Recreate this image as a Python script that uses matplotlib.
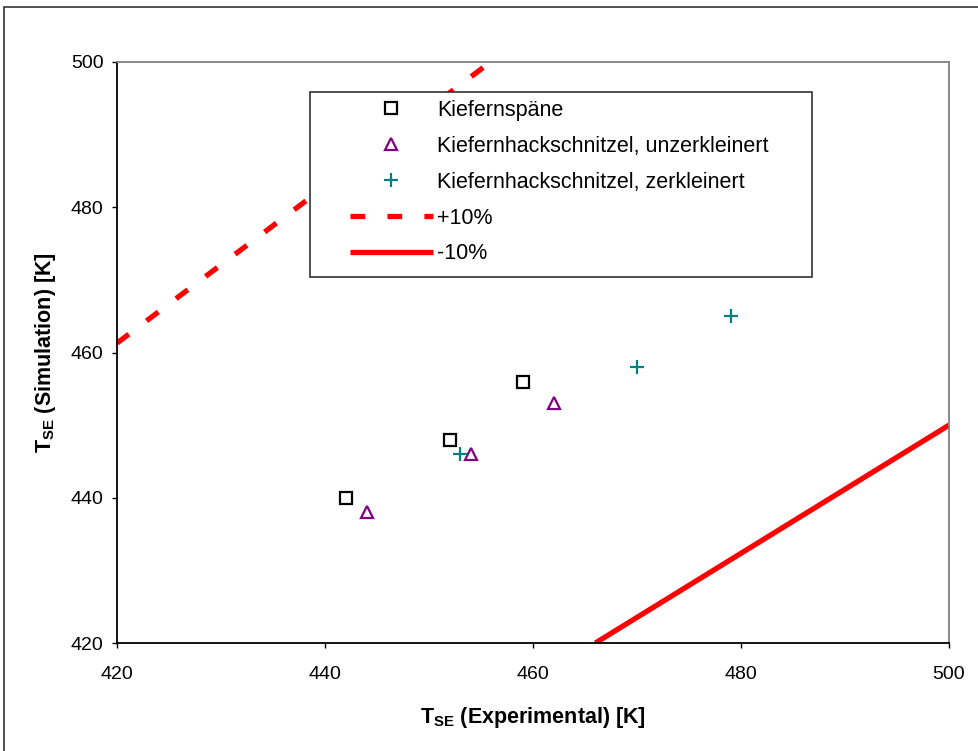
import matplotlib
matplotlib.use("Agg")
import matplotlib.pyplot as plt
from matplotlib.patches import Rectangle

plt.rcParams['font.family'] = ['Liberation Sans', 'DejaVu Sans']
plt.rcParams['mathtext.fontset'] = 'custom'
plt.rcParams['mathtext.rm'] = 'Liberation Sans'
plt.rcParams['mathtext.bf'] = 'Liberation Sans:bold'

# data
spaene_x = [442, 452, 459]
spaene_y = [440, 448, 456]
unzerkl_x = [444, 454, 462]
unzerkl_y = [438, 446, 453]
zerkl_x = [453, 470, 479]
zerkl_y = [446, 458, 465]
plus10_x = [420, 500]
plus10_y = [461.3, 547.5]
minus10_x = [466, 500]
minus10_y = [420, 450]
ticks = [420, 440, 460, 480, 500]

W, H = 979, 751
fig = plt.figure(figsize=(W / 100, H / 100), dpi=100)
ax_l, ax_r, ax_t, ax_b = 117, 949, 62, 643
ax = fig.add_axes([ax_l / W, 1 - ax_b / H, (ax_r - ax_l) / W, (ax_b - ax_t) / H])
aw, ah = ax_r - ax_l, ax_b - ax_t


def ax_x(px):
    return (px - ax_l) / aw


def ax_y(py):
    return (ax_b - py) / ah


ax.plot(spaene_x, spaene_y, linestyle='none', marker='s', markersize=8,
        markerfacecolor='none', markeredgecolor='black', markeredgewidth=1.6,
        label='Kiefernspäne')
ax.plot(unzerkl_x, unzerkl_y, linestyle='none', marker='^', markersize=9,
        markerfacecolor='none', markeredgecolor='#800080', markeredgewidth=1.6,
        label='Kiefernhackschnitzel, unzerkleinert')
ax.plot(zerkl_x, zerkl_y, linestyle='none', marker='+', markersize=10,
        markeredgecolor='#008080', markeredgewidth=1.6,
        label='Kiefernhackschnitzel, zerkleinert')
l1, = ax.plot(plus10_x, plus10_y, color='#FF0000', linewidth=3.8, label='+10%')
l1.set_dashes([2.8, 4.2])
l1.set_dash_capstyle('butt')
ax.plot(minus10_x, minus10_y, color='#FF0000', linewidth=3.8, label='-10%',
        solid_capstyle='butt')

ax.set_xlim(420, 500)
ax.set_ylim(420, 500)
ax.set_xticks(ticks)
ax.set_yticks(ticks)
ax.tick_params(direction='out', length=3.6, width=1, labelsize=14)
ax.tick_params(axis='x', pad=13)
ax.tick_params(axis='y', pad=6)
ax.spines['left'].set_color('black')
ax.spines['bottom'].set_color('black')
ax.spines['top'].set_color('#808080')
ax.spines['right'].set_color('#808080')
for s in ax.spines.values():
    s.set_linewidth(1.3)

ax.set_xlabel(r'$\mathbf{T_{SE}}$ (Experimental) [K]', fontsize=15.5,
              fontweight='bold', va='center')
ax.xaxis.set_label_coords(0.5, ax_y(718))
ax.set_ylabel(r'$\mathbf{T_{SE}}$ (Simulation) [K]', fontsize=15.5,
              fontweight='bold', va='center')
ax.yaxis.set_label_coords(ax_x(45), 0.5)

# legend box
ax.add_patch(Rectangle((ax_x(310), ax_y(277)), ax_x(812) - ax_x(310),
                       ax_y(92) - ax_y(277), transform=ax.transAxes,
                       facecolor='white', edgecolor='#333333', linewidth=1.2,
                       zorder=4))
leg = ax.legend(loc='upper left', bbox_to_anchor=(ax_x(350), ax_y(100)),
                frameon=False, fontsize=15.5, handlelength=3.85,
                handletextpad=0.2, borderpad=0, labelspacing=0.69,
                borderaxespad=0)
leg.set_zorder(5)

fig.patches.append(Rectangle((4 / W, -0.1), 1.2, 1.1 - 7 / H,
                             transform=fig.transFigure, fill=False,
                             edgecolor='#333333', linewidth=1.2))

fig.savefig('out.png', dpi=100)
